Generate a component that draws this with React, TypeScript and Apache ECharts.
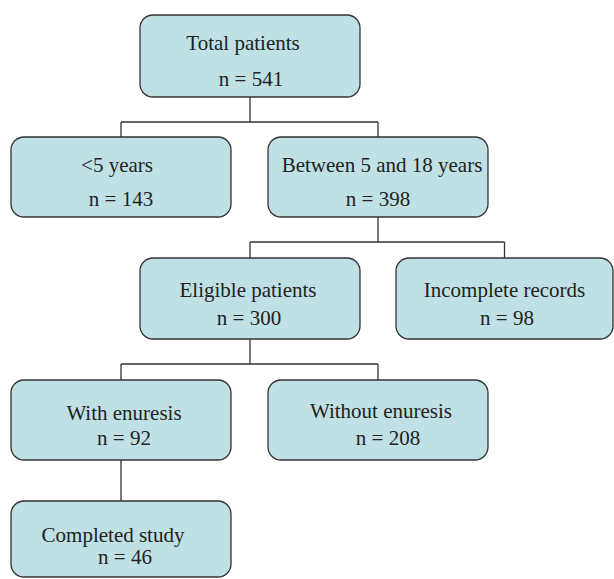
import React, { useEffect, useRef } from "react";
import * as echarts from "echarts";

// ---- data ----
const nodeLabels = [
  "Total patients",
  "<5 years",
  "Between 5 and 18 years",
  "Eligible patients",
  "Incomplete records",
  "With enuresis",
  "Without enuresis",
  "Completed study",
];
const nodeCounts = [541, 143, 398, 300, 98, 92, 208, 46];
const nodeParents = [-1, 0, 0, 2, 2, 3, 3, 5];

// ---- layout (pixels) ----
const boxLeft = [140, 11, 268, 140, 396, 11, 268, 11];
const boxTop = [15, 137, 137, 258, 258, 380, 380, 501];
const boxWidth = [220, 220, 220, 220, 217, 220, 220, 220];
const boxHeight = [82, 80, 80, 81, 81, 80, 80, 76];
const line1Offset = [[-7, 28], [-4, 28], [4, 28], [-2, 32], [0, 32], [3, 33], [3, 31], [-8, 34]];
const line2Offset = [[1, 64], [0, 62], [0, 62], [-1, 60], [2.5, 60], [3, 57.5], [10, 58], [4, 56]];

const FILL = "#bfe0e4";
const STROKE = "#333333";
const TEXT = "#222222";
const FONT_FAMILY = "Liberation Serif";
const FONT_SIZE = 21;

export default function App() {
  const ref = useRef<HTMLDivElement>(null);

  useEffect(() => {
    document.body.style.margin = "0";
    if (!ref.current) return;
    const chart = echarts.init(ref.current, undefined, { renderer: "svg" });

    const elements: any[] = [];
    const cx = (i: number) => boxLeft[i] + boxWidth[i] / 2;
    const lineStyle = { stroke: STROKE, lineWidth: 1.3, fill: null };

    // connectors
    const childrenOf: Record<number, number[]> = {};
    nodeParents.forEach((p, i) => {
      if (p >= 0) (childrenOf[p] = childrenOf[p] || []).push(i);
    });
    Object.keys(childrenOf).forEach((k) => {
      const p = Number(k);
      const kids = childrenOf[p];
      const px = cx(p);
      const pBottom = boxTop[p] + boxHeight[p];
      const midY = pBottom + 25;
      if (kids.length === 1) {
        elements.push({ type: "polyline", shape: { points: [[px, pBottom], [px, boxTop[kids[0]]]] }, style: lineStyle, z: 1 });
      } else {
        elements.push({ type: "polyline", shape: { points: [[px, pBottom], [px, midY]] }, style: lineStyle, z: 1 });
        const xs = kids.map((c) => cx(c));
        elements.push({ type: "polyline", shape: { points: [[Math.min(...xs), midY], [Math.max(...xs), midY]] }, style: lineStyle, z: 1 });
        kids.forEach((c) => {
          elements.push({ type: "polyline", shape: { points: [[cx(c), midY], [cx(c), boxTop[c]]] }, style: lineStyle, z: 1 });
        });
      }
    });

    // boxes and texts
    nodeLabels.forEach((label, i) => {
      elements.push({
        type: "rect",
        shape: { x: boxLeft[i], y: boxTop[i], width: boxWidth[i], height: boxHeight[i], r: 13 },
        style: { fill: FILL, stroke: STROKE, lineWidth: 1.3 },
        z: 2,
      });
      const textBase = { fontFamily: FONT_FAMILY, fontSize: FONT_SIZE, fill: TEXT, align: "center", verticalAlign: "middle" };
      elements.push({
        type: "text",
        x: cx(i) + line1Offset[i][0],
        y: boxTop[i] + line1Offset[i][1],
        style: { ...textBase, text: label },
        z: 3,
      });
      elements.push({
        type: "text",
        x: cx(i) + line2Offset[i][0],
        y: boxTop[i] + line2Offset[i][1],
        style: { ...textBase, text: "n = " + nodeCounts[i] },
        z: 3,
      });
    });

    chart.setOption({
      animation: false,
      backgroundColor: "#ffffff",
      graphic: { elements },
    });

    return () => chart.dispose();
  }, []);

  return <div ref={ref} style={{ width: 614, height: 579 }} />;
}
